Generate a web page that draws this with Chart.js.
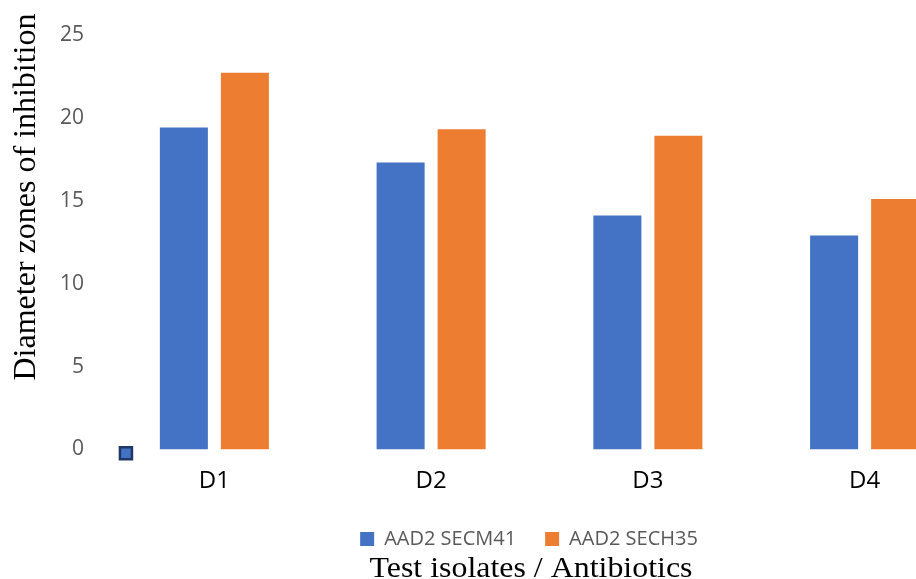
<!DOCTYPE html>
<html>
<head>
<meta charset="utf-8">
<script src="https://cdn.jsdelivr.net/npm/chart.js@4.4.1/dist/chart.umd.min.js"></script>
<style>
  html, body { margin: 0; padding: 0; background: #ffffff; }
  #frame { width: 916px; height: 579px; overflow: hidden; position: relative; }
  canvas { display: block; }
</style>
</head>
<body>
<div id="frame"><canvas id="chart" width="1058" height="579"></canvas></div>
<script>
// Test isolates / antibiotics and measured inhibition zones
const categories = ['D1', 'D2', 'D3', 'D4'];
const seriesNames = ['AAD2 SECM41', 'AAD2 SECH35'];
const secm41Values = [19.4, 17.3, 14.1, 12.9];
const sech35Values = [22.7, 19.3, 18.9, 15.1];
const yTickValues = [0, 5, 10, 15, 20, 25];
// small square marker sitting near the origin (category-axis units, value units)
const strayMarker = { x: -0.408, y: -0.23 };

const yAxisTitle = 'Diameter zones of inhibition';
const xAxisTitle = 'Test isolates / Antibiotics';

// Square marker placed through the chart's own scales
const markerPlugin = {
  id: 'strayMarker',
  afterDatasetsDraw(chart) {
    const { ctx, scales } = chart;
    const px = scales.x.getPixelForValue(strayMarker.x);
    const py = scales.y.getPixelForValue(strayMarker.y);
    ctx.save();
    ctx.fillStyle = '#4472C4';
    ctx.strokeStyle = '#1F3864';
    ctx.lineWidth = 2.5;
    Chart.helpers.drawPoint(ctx, { pointStyle: 'rect', radius: 8.5, borderWidth: 2.5, rotation: 0 }, px, py);
    ctx.restore();
  }
};

// Axis captions drawn as canvas text
const captionPlugin = {
  id: 'captions',
  afterDraw(chart) {
    const ctx = chart.ctx;
    ctx.save();
    ctx.fillStyle = '#000000';
    ctx.textAlign = 'center';
    ctx.textBaseline = 'alphabetic';

    // vertical caption on the left edge
    ctx.save();
    ctx.translate(35, 197);
    ctx.rotate(-Math.PI / 2);
    ctx.font = '32px "Liberation Serif", "Times New Roman", serif';
    ctx.fillText(yAxisTitle, 0, 0);
    ctx.restore();

    // horizontal caption under the legend
    ctx.save();
    ctx.translate(531, 576.5);
    ctx.scale(1.1, 1);
    ctx.font = '29px "Liberation Serif", "Times New Roman", serif';
    ctx.fillText(xAxisTitle, 0, 0);
    ctx.restore();

    ctx.restore();
  }
};

new Chart(document.getElementById('chart'), {
  type: 'bar',
  data: {
    labels: categories,
    datasets: [
      {
        label: seriesNames[0],
        data: secm41Values,
        backgroundColor: '#4472C4',
        categoryPercentage: 0.563,
        barPercentage: 0.787
      },
      {
        label: seriesNames[1],
        data: sech35Values,
        backgroundColor: '#ED7D31',
        categoryPercentage: 0.563,
        barPercentage: 0.787
      }
    ]
  },
  options: {
    responsive: false,
    animation: false,
    devicePixelRatio: 1,
    layout: { padding: { top: 31, left: 0, right: 0, bottom: 20 } },
    scales: {
      x: {
        type: 'category',
        offset: true,
        afterFit(scale) { scale.height = 50.5; },
        grid: { display: false, drawTicks: false },
        border: { display: false },
        ticks: {
          color: '#000000',
          padding: 17.5,
          font: { family: '"Open Sans", sans-serif', size: 24 }
        }
      },
      y: {
        type: 'linear',
        position: 'left',
        min: 0,
        max: 25,
        afterFit(scale) { scale.width = 106; },
        afterBuildTicks(scale) { scale.ticks = yTickValues.map(v => ({ value: v })); },
        grid: { display: false, drawTicks: false },
        border: { display: false },
        ticks: {
          color: '#595959',
          padding: 22,
          font: { family: '"Open Sans", sans-serif', size: 21 }
        }
      },
      yRight: {
        type: 'linear',
        position: 'right',
        display: true,
        afterFit(scale) { scale.width = 85; },
        grid: { display: false, drawTicks: false },
        border: { display: false },
        ticks: { display: false }
      }
    },
    plugins: {
      legend: {
        position: 'bottom',
        labels: {
          color: '#595959',
          boxWidth: 14,
          boxHeight: 14,
          padding: 29,
          font: { family: '"Open Sans", sans-serif', size: 20 }
        }
      },
      title: { display: false },
      tooltip: { enabled: false }
    }
  },
  plugins: [markerPlugin, captionPlugin]
});
</script>
</body>
</html>
